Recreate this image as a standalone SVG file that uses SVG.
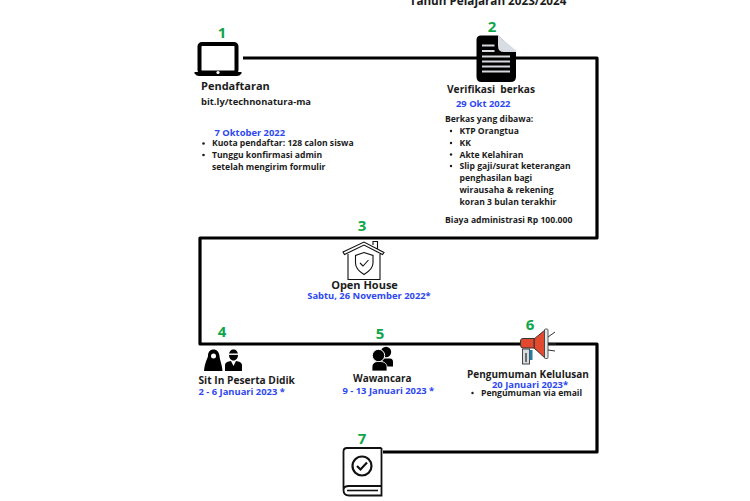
<svg xmlns="http://www.w3.org/2000/svg" width="750" height="501" viewBox="0 0 750 501">
<style>
text{font-family:"Open Sans","Noto Sans",sans-serif;font-weight:700;fill:#1c1c1c}
.n{font-size:15px;fill:#0fa64a;text-anchor:middle}
.t{font-size:11px}
.b{font-size:8.600px}
.d{font-size:9.400px;fill:#2d47f0}
.m{text-anchor:middle}
.k{fill:#000}
.o{fill:none;stroke:#111}
</style>
<rect width="750" height="501" fill="#fff"/>
<text x="488" y="5" class="m" style="font-size:11.700px">Tahun Pelajaran 2023/2024</text>
<g id="connectors"><path d="M243 58H597V238H200V344H597V452H383" fill="none" stroke="#000" stroke-width="3.200" stroke-linejoin="round"/></g>
<g id="node1">
<text x="222" y="38" class="n">1</text>
<rect x="199.500" y="44" width="37" height="28.500" rx="2.500" class="o" stroke-width="4" style="stroke:#000"/>
<path class="k" d="M194.500 72H241.500V73.500Q239.500 76 237 76H199Q196.500 76 194.500 73.500Z"/><circle cx="218" cy="72.500" r="1.600" fill="#fff"/>
<text x="201" y="90" class="t">Pendaftaran</text>
<text x="201" y="105" style="font-size:9.400px">bit.ly/technonatura-ma</text>
<text x="214.500" y="136" class="d">7 Oktober 2022</text>
<circle cx="203.500" cy="143.500" r="1.300" fill="#1c1c1c"/><text x="212" y="146" class="b">Kuota pendaftar: 128 calon siswa</text><circle cx="203.500" cy="155" r="1.300" fill="#1c1c1c"/><text x="212" y="158" class="b">Tunggu konfirmasi admin</text><text x="212" y="170" class="b">setelah mengirim formulir</text>
</g>
<g id="node2">
<text x="492" y="32" class="n">2</text>
<path class="k" d="M481 35.500H498L516 52V76.500Q516 82 510.500 82H481.500Q476.500 82 476.500 76.500V40Q476.500 35.500 481 35.500Z"/>
<path d="M498 35.500L516 50.500V52H504Q498 52 498 46Z" fill="#d8dde3"/>
<path d="M482 45.500H494.500M482 51H494.500M482 56.500H510M482 61.500H510M482 66.500H510M482 71.500H510" stroke="#d5dae0" stroke-width="2.200"/>
<text x="447" y="92.500" xml:space="preserve" style="font-size:10.200px">Verifikasi  berkas</text>
<text x="456" y="107" class="d">29 Okt 2022</text>
<text x="445" y="122" class="b">Berkas yang dibawa:</text>
<g fill="#1c1c1c"><circle cx="451" cy="131" r="1.200"/><circle cx="451" cy="143" r="1.200"/><circle cx="451" cy="154.500" r="1.200"/><circle cx="451" cy="166" r="1.200"/></g>
<text x="459.500" y="134" class="b">KTP Orangtua</text><text x="459.500" y="146" class="b">KK</text><text x="459.500" y="157.500" class="b">Akte Kelahiran</text><text x="459.500" y="169" class="b">Slip gaji/surat keterangan</text><text x="459.500" y="181" class="b">penghasilan bagi</text><text x="459.500" y="193" class="b">wirausaha &amp; rekening</text><text x="459.500" y="204.500" class="b">koran 3 bulan terakhir</text>
<text x="445" y="223" class="b">Biaya administrasi Rp 100.000</text>
</g>
<g id="node3">
<text x="362" y="231" class="n">3</text>
<g class="o" stroke-width="1.100"><path d="M343 252L364 242L384 252.500L382.500 254.500L364 245L344.500 254.500ZM348 254V279.500H380V254M373 245V241.500H377.500V249"/><path d="M364 252.500L373 255.500V263C373 268 369 271.500 364 274.500C359 271.500 355.500 268 355.500 263V255.500Z"/><path d="M360 263L363 266L368.500 260"/></g>
<text x="364.500" y="289" class="t m">Open House</text>
<text x="369" y="299" class="d m">Sabtu, 26 November 2022*</text>
</g>
<g id="node4">
<text x="222" y="337" class="n">4</text>
<path class="k" d="M204 371C205 361 208 358 208 356C208 352 210 349.500 213.500 349.500C217 349.500 219 352 219.500 356C220 361 222 364 222.500 371Z"/><circle cx="213.500" cy="356" r="2.500" fill="#fff"/>
<path class="k" d="M229 355C229 351.500 231 349.500 233.500 349.500C236 349.500 238 351.500 238 355C238 358 236 360.500 233.500 360.500C231 360.500 229 358 229 355ZM225 371V365C225 362.500 228 361.500 231 361L233.500 366L236 361C239 361.500 242 362.500 242 365V371Z"/>
<rect x="229" y="353.500" width="9" height="1.400" fill="#fff"/>
<text x="198.500" y="384" style="font-size:10.200px">Sit In Peserta Didik</text>
<text x="198.500" y="394.500" class="d">2 - 6 Januari 2023 *</text>
</g>
<g id="node5">
<text x="380" y="339" class="n">5</text>
<circle cx="386" cy="352" r="5.200" class="k"/>
<path class="k" d="M381 358.500H390C392 358.500 393 360 393 362V366.500H386Z"/>
<circle cx="378.500" cy="355.500" r="6.200" class="k" stroke="#fff" stroke-width="1"/>
<path class="k" d="M372 371V367C372 363.500 375 361.500 378 361.500H380C384 361.500 387 363.500 387 367V371Z" stroke="#fff" stroke-width=".8"/>
<text x="353" y="382" style="font-size:10px">Wawancara</text>
<text x="342.500" y="394" class="d">9 - 13 Januari 2023 *</text>
</g>
<g id="node6">
<text x="530" y="330" class="n">6</text>
<g stroke="#333" stroke-width="1" fill="none"><path d="M548 337L555 332M548 344H556M548 350L555 351"/></g>
<rect x="522.500" y="349" width="7" height="15" fill="#d7dce0" stroke="#333" stroke-width=".9"/><path d="M526 353V362" stroke="#222" stroke-width="1.200"/><rect x="529.500" y="350" width="3" height="10" fill="#2b7a9b"/>
<path d="M534 339L545 330V358L534 348Z" fill="#e2492e" stroke="#333" stroke-width="1"/>
<path d="M534 338.500H523Q520.500 338.500 520.500 341V345Q520.500 348 523 348H534Z" fill="#e2492e" stroke="#333" stroke-width="1"/>
<rect x="544.500" y="329" width="3.500" height="29.500" rx="1" fill="#e5e7ea" stroke="#333" stroke-width=".8"/>
<text x="528" y="378" class="m" style="font-size:10px">Pengumuman Kelulusan</text>
<text x="530" y="387.500" class="d m">20 Januari 2023*</text>
<circle cx="472.500" cy="393" r="1.200" fill="#1c1c1c"/><text x="481" y="396" class="b">Pengumuman via email</text>
</g>
<g id="node7">
<text x="362" y="444" class="n">7</text>
<g class="o" stroke-width="1.800"><path d="M381.500 448H347Q343.500 448 343.500 451.500V490Q343.500 495.500 349 495.500H381.500V486H349Q343.500 486 343.500 490M381.500 448V486"/><path d="M347 490.500H378" stroke-width="1.600"/><circle cx="362" cy="466" r="9.500" stroke-width="2.200"/><path d="M357 466L360.500 469.500L367 462.500" stroke-width="2.200"/></g>
</g>
</svg>
